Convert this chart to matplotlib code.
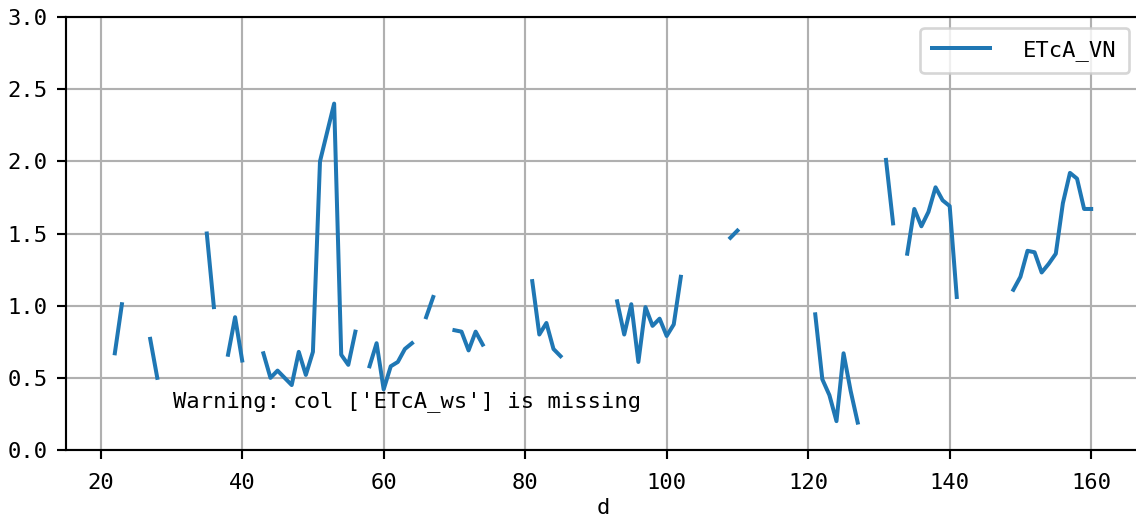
import numpy as np
import matplotlib.pyplot as plt

nan = np.nan
# day of season | ETcA_VN (gaps are NaN)
days = [22, 23, 24,
        27, 28, 29,
        35, 36, 37,
        38, 39, 40, 41,
        43, 44, 45, 46, 47, 48, 49, 50, 51, 52, 53, 54, 55, 56, 57,
        58, 59, 60, 61, 62, 63, 64, 65,
        66, 67, 68,
        70, 71, 72, 73, 74, 75,
        81, 82, 83, 84, 85, 86,
        93, 94, 95, 96, 97, 98, 99, 100, 101, 102, 103,
        109, 110, 111,
        121, 122, 123, 124, 125, 126, 127, 128,
        131, 132, 133,
        134, 135, 136, 137, 138, 139, 140, 141, 142,
        149, 150, 151, 152, 153, 154, 155, 156, 157, 158, 159, 160]
etca_vn = [0.67, 1.01, nan,
           0.77, 0.50, nan,
           1.50, 0.99, nan,
           0.66, 0.92, 0.62, nan,
           0.67, 0.50, 0.55, 0.50, 0.45, 0.68, 0.52, 0.68, 2.00, 2.20, 2.40, 0.66, 0.59, 0.82, nan,
           0.58, 0.74, 0.42, 0.58, 0.61, 0.70, 0.74, nan,
           0.92, 1.06, nan,
           0.83, 0.82, 0.69, 0.82, 0.73, nan,
           1.17, 0.80, 0.88, 0.70, 0.65, nan,
           1.03, 0.80, 1.01, 0.61, 0.99, 0.86, 0.91, 0.79, 0.87, 1.20, nan,
           1.47, 1.52, nan,
           0.94, 0.49, 0.38, 0.20, 0.67, 0.41, 0.19, nan,
           2.01, 1.57, nan,
           1.36, 1.67, 1.55, 1.65, 1.82, 1.73, 1.69, 1.06, nan,
           1.11, 1.20, 1.38, 1.37, 1.23, 1.29, 1.36, 1.71, 1.92, 1.88, 1.67, 1.67]
missing_col = 'ETcA_ws'

DPI = 192
plt.rcParams['font.family'] = ['DejaVu Sans Mono']
plt.rcParams['font.size'] = 8.3

fig = plt.figure(figsize=(1136 / DPI, 520 / DPI), dpi=DPI)
ax = fig.add_axes([66 / 1136, 70 / 520, 1074 / 1136, 433 / 520])
ax.plot(days, etca_vn, color='#1f77b4', lw=1.5, label='ETcA_VN')
ax.set_ylim(0, 3)
ax.set_yticks(np.arange(0, 3.01, 0.5))
ax.set_xticks(range(20, 161, 20))
ax.tick_params(axis='x', pad=5)
ax.grid(True)
ax.set_xlabel('d', labelpad=2)
ax.text(0.1, 0.1, "Warning: col ['" + missing_col + "'] is missing", transform=ax.transAxes)
ax.legend(loc='upper right', handlelength=2.6, handletextpad=1.5, borderpad=0.55)

fig.savefig('out.png', dpi=DPI)
